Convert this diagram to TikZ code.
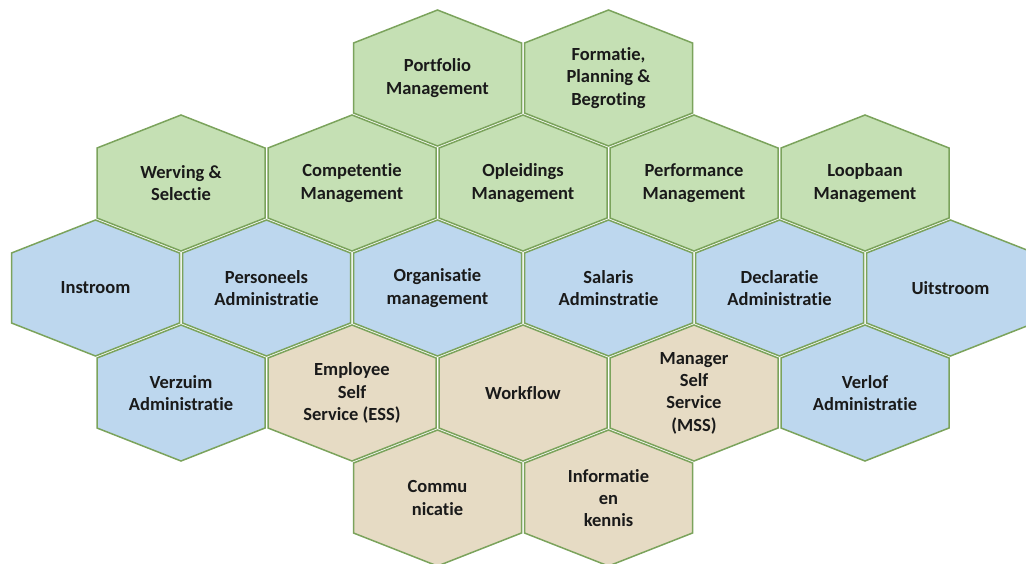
\documentclass[tikz,border=0pt]{standalone}
\usepackage{fontspec}
\setmainfont{Carlito}[Ligatures=NoCommon]
\usepackage{tikz}

\definecolor{hexgreen}{HTML}{C5E0B4}
\definecolor{hexblue}{HTML}{BDD7EE}
\definecolor{hextan}{HTML}{E6DBC4}
\definecolor{hexline}{HTML}{7BA35C}
\definecolor{hextext}{HTML}{1A1A1A}

\newcommand\hexcell[5]{%
  \draw[hexborder,fill=#4,shift={(#2,#3)}]
    (-84,-35) -- (0,-68) -- (84,-35) -- (84,35) -- (0,68) -- (-84,35) -- cycle;
  \node[hexlabel] (#1) at (#2,#3) {#5};}

\begin{document}
\begin{tikzpicture}[x=1pt,y=-1pt,
  hexborder/.style={draw=hexline,line width=1.5pt,line join=miter},
  hexlabel/.style={align=center,text=hextext,font=\fontsize{18.5}{22.3}\selectfont\bfseries}]
\useasboundingbox (0,0) rectangle (1026,563);
\hexcell{portfolio}{437.5}{78}{hexgreen}{Portfolio\\Management}
\hexcell{formatie}{608.5}{78}{hexgreen}{Formatie,\\Planning \&\\Begroting}
\hexcell{werving}{181}{183}{hexgreen}{Werving \&\\Selectie}
\hexcell{competentie}{352}{183}{hexgreen}{Competentie\\Management}
\hexcell{opleidings}{523}{183}{hexgreen}{Opleidings\\Management}
\hexcell{performance}{694}{183}{hexgreen}{Performance\\Management}
\hexcell{loopbaan}{865}{183}{hexgreen}{Loopbaan\\Management}
\hexcell{instroom}{95.5}{288}{hexblue}{Instroom}
\hexcell{personeels}{266.5}{288}{hexblue}{Personeels\\Administratie}
\hexcell{organisatie}{437.5}{288}{hexblue}{Organisatie\\management}
\hexcell{salaris}{608.5}{288}{hexblue}{Salaris\\Adminstratie}
\hexcell{declaratie}{779.5}{288}{hexblue}{Declaratie\\Administratie}
\hexcell{uitstroom}{950.5}{288}{hexblue}{Uitstroom}
\hexcell{verzuim}{181}{393}{hexblue}{Verzuim\\Administratie}
\hexcell{ess}{352}{393}{hextan}{Employee\\Self\\Service (ESS)}
\hexcell{workflow}{523}{393}{hextan}{Workflow}
\hexcell{mss}{694}{393}{hextan}{Manager\\Self\\Service\\(MSS)}
\hexcell{verlof}{865}{393}{hexblue}{Verlof\\Administratie}
\hexcell{commu}{437.5}{498}{hextan}{Commu\\nicatie}
\hexcell{informatie}{608.5}{498}{hextan}{Informatie\\en\\kennis}
\end{tikzpicture}
\end{document}
